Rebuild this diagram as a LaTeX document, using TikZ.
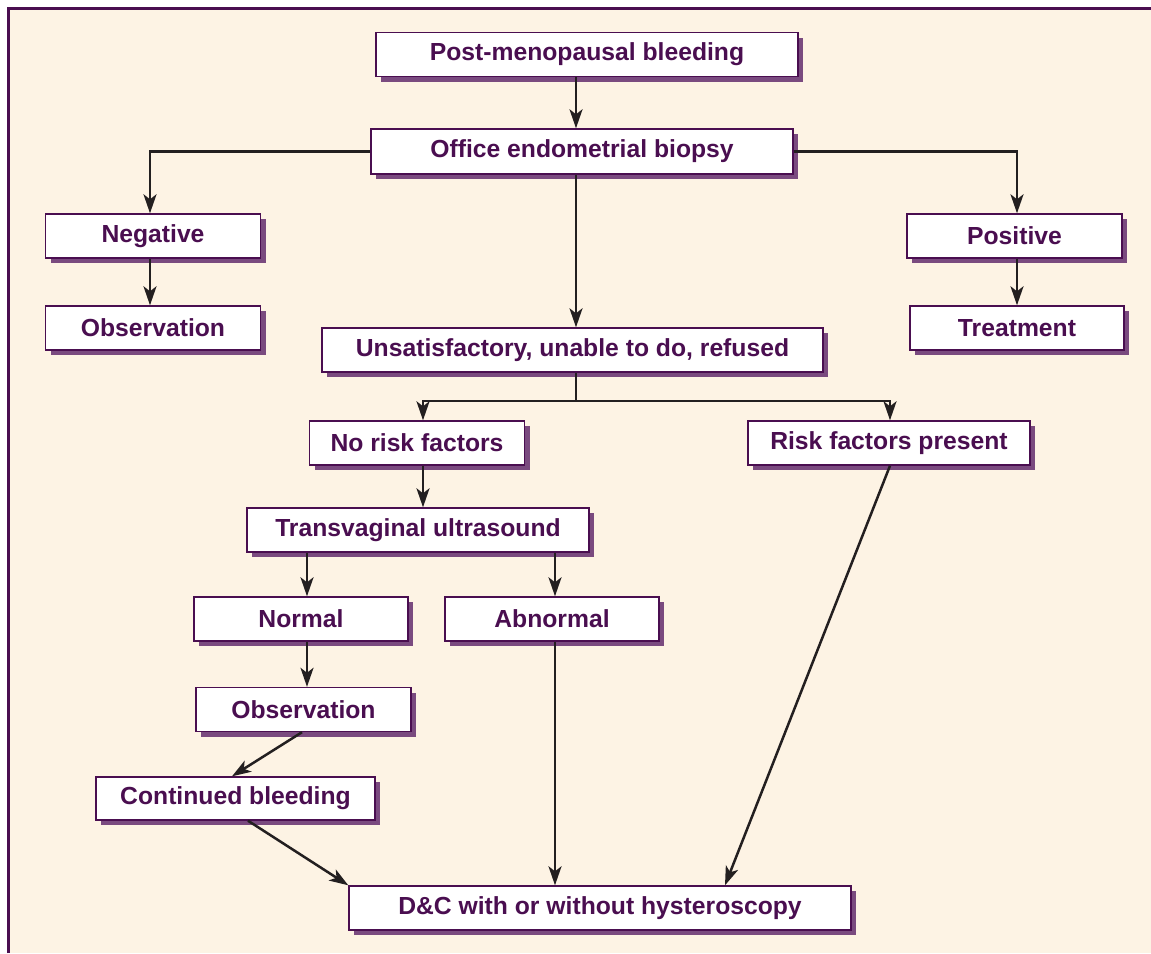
\documentclass[tikz,border=0pt]{standalone}
\usepackage{fontspec}
\setmainfont{Liberation Sans}
\usetikzlibrary{shadows,arrows.meta}
\definecolor{cream}{HTML}{FDF3E4}
\definecolor{purp}{HTML}{4A0E50}
\definecolor{shad}{HTML}{7A4A7F}
\definecolor{ink}{HTML}{231F20}
\begin{document}
\begin{tikzpicture}[x=1pt,y=-1pt,
 box/.style={draw=purp, line width=1.4pt, fill=white, text=purp,
   font=\fontsize{24.7}{28}\selectfont\bfseries, inner sep=0pt, minimum height=44pt,
   drop shadow={shadow xshift=5pt, shadow yshift=-5pt, fill=shad, opacity=1}},
 arr/.style={draw=ink, line width=2.5pt, -{Stealth[length=19pt,width=13pt,inset=5pt]}},
 ln/.style={draw=ink, line width=2.5pt}]
\useasboundingbox (0,0) rectangle (1151,953);
\fill[white] (0,0) rectangle (1151,953);
\fill[cream] (8,8) rectangle (1151,953);
\draw[purp, line width=3pt] (8,953) -- (8,8) -- (1151,8);

\node[box, minimum width=422pt] (pmb) at (587,54.5) {Post-menopausal bleeding};
\node[box, minimum width=422pt, minimum height=45pt] (oeb) at (582,151.5) {Office endometrial biopsy};
\node[box, minimum width=215pt] (neg) at (153,236) {Negative};
\node[box, minimum width=215pt] (obs1) at (153,328) {Observation};
\node[box, minimum width=215pt] (pos) at (1014.5,236) {Positive};
\node[box, minimum width=214pt] (treat) at (1017,328) {Treatment};
\node[box, minimum width=501pt] (unsat) at (572.5,350) {Unsatisfactory, unable to do, refused};
\node[box, minimum width=215pt] (nrf) at (417,443) {No risk factors};
\node[box, minimum width=282pt] (rfp) at (889,443) {Risk factors present};
\node[box, minimum width=342pt] (tvus) at (418,530) {Transvaginal ultrasound};
\node[box, minimum width=214pt] (normal) at (301,619) {Normal};
\node[box, minimum width=214pt] (abn) at (552,619) {Abnormal};
\node[box, minimum width=215pt] (obs2) at (303.5,709.5) {Observation};
\node[box, minimum width=279pt, minimum height=43pt] (cont) at (235.5,798.5) {Continued bleeding};
\node[box, minimum width=502pt] (dc) at (600,908) {D\&C with or without hysteroscopy};

% connectors
\draw[arr] (576,0 |- pmb.south) -- (576,0 |- oeb.north);
\draw[arr] (oeb.west) -- (150,0 |- oeb.west) -- (150,0 |- neg.north);
\draw[arr] (oeb.east) -- (1017,0 |- oeb.east) -- (1017,0 |- pos.north);
\draw[arr] (150,0 |- neg.south) -- (150,0 |- obs1.north);
\draw[arr] (1017,0 |- pos.south) -- (1017,0 |- treat.north);
\draw[arr] (576,0 |- oeb.south) -- (576,0 |- unsat.north);
\coordinate (split) at (576,401);
\coordinate (sl) at (423,401);
\coordinate (sr) at (890,401);
\draw[ln] (576,0 |- unsat.south) -- (split);
\draw[ln, line cap=rect] (sl) -- (sr);
\draw[arr] (sl) -- (423,0 |- nrf.north);
\draw[arr] (sr) -- (890,0 |- rfp.north);
\draw[arr] (423,0 |- nrf.south) -- (423,0 |- tvus.north);
\draw[arr] (307,0 |- tvus.south) -- (307,0 |- normal.north);
\draw[arr] (555,0 |- tvus.south) -- (555,0 |- abn.north);
\draw[arr] (307,0 |- normal.south) -- (307,0 |- obs2.north);
\draw[arr] (302,0 |- obs2.south) -- (232,0 |- cont.north);
\draw[arr] (248,0 |- cont.south) -- (dc.north west);
\draw[arr] (555,0 |- abn.south) -- (555,0 |- dc.north);
\draw[arr] (890,0 |- rfp.south) -- (725,0 |- dc.north);
\end{tikzpicture}
\end{document}
